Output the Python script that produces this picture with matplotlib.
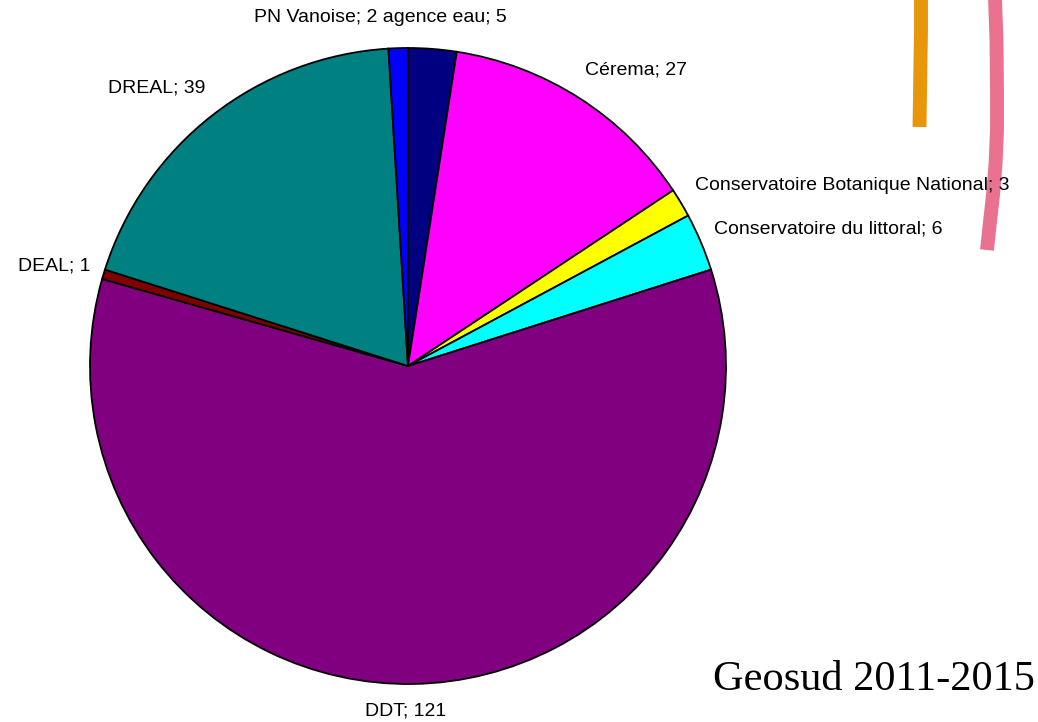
import matplotlib.pyplot as plt

labels = ["agence eau", "Cérema", "Conservatoire Botanique National",
          "Conservatoire du littoral", "DDT", "DEAL", "DREAL", "PN Vanoise"]
values = [5, 27, 3, 6, 121, 1, 39, 2]
colors = ["#000080", "#FF00FF", "#FFFF00", "#00FFFF",
          "#800080", "#800000", "#008080", "#0000FF"]

W, H = 1038, 722
fig = plt.figure(figsize=(W / 100, H / 100), dpi=100)
ax = fig.add_axes([0, 0, 1, 1])

ax.pie(values, colors=colors, startangle=90, counterclock=False,
       center=(408, H - 366), radius=318,
       wedgeprops=dict(edgecolor="black", linewidth=1.3), frame=True)
ax.set_xlim(0, W)
ax.set_ylim(0, H)
ax.axis("off")

# decorative strokes (behind the text)
ax.plot([921, 921, 920.5, 920, 919.5], [H + 2, H - 30, H - 60, H - 95, H - 127],
        color="#E8960A", lw=10, solid_capstyle="butt", zorder=1)
ax.plot([995, 996.5, 997, 997, 995.5, 993, 990, 987],
        [H + 2, H - 40, H - 90, H - 130, H - 165, H - 195, H - 222, H - 250],
        color="#E8728F", lw=10, solid_capstyle="butt", zorder=1)

# labels (pixel positions from top-left)
fs = 14
fam = "Liberation Sans"
lab = [f"{l}; {v}" for l, v in zip(labels, values)]
kw = dict(va="center", fontsize=fs, family=fam, zorder=5)
ax.text(380, H - 17, lab[7] + " " + lab[0], ha="center", **kw)
ax.text(585, H - 70, lab[1], ha="left", **kw)
ax.text(695, H - 186, lab[2], ha="left", **kw)
ax.text(714, H - 229, lab[3], ha="left", **kw)
ax.text(90, H - 266, lab[5], ha="right", **kw)
ax.text(205, H - 88, lab[6], ha="right", **kw)
ax.text(406, H - 711, lab[4], ha="center", **kw)

ax.text(1035, H - 680, "Geosud 2011-2015", ha="right", va="center",
        fontsize=30.5, family="Liberation Serif", zorder=5)

fig.savefig("out.png", dpi=100)
